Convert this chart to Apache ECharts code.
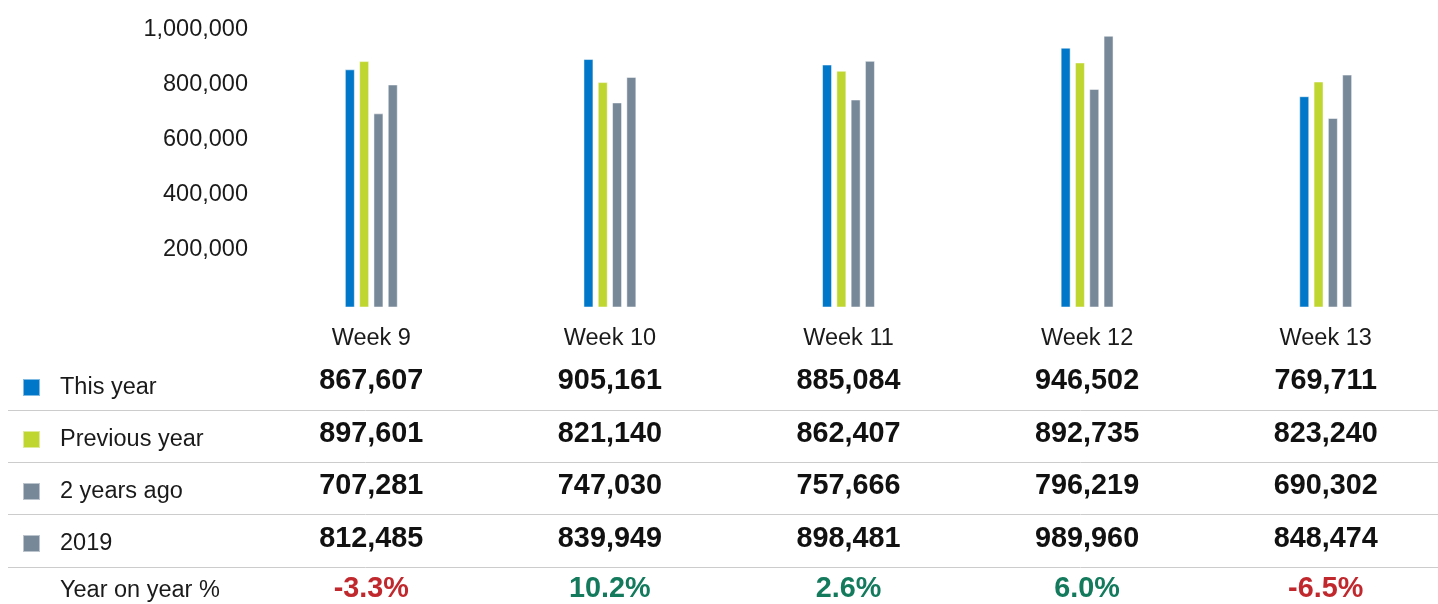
<!DOCTYPE html>
<html>
<head>
<meta charset="utf-8">
<script src="https://cdn.jsdelivr.net/npm/echarts@6/dist/echarts.min.js"></script>
<style>
  html, body { margin: 0; padding: 0; background: #fff; overflow: hidden; }
  #chart { width: 1446px; height: 604px; }
</style>
</head>
<body>
<div id="chart"></div>
<script>
const weeks = ['Week 9', 'Week 10', 'Week 11', 'Week 12', 'Week 13'];
const thisYear = [867607, 905161, 885084, 946502, 769711];
const previousYear = [897601, 821140, 862407, 892735, 823240];
const twoYearsAgo = [707281, 747030, 757666, 796219, 690302];
const year2019 = [812485, 839949, 898481, 989960, 848474];
const yearOnYear = [-3.3, 10.2, 2.6, 6.0, -6.5];

const seriesNames = ['This year', 'Previous year', '2 years ago', '2019'];
const seriesData = [thisYear, previousYear, twoYearsAgo, year2019];
const colors = ['#0077c8', '#bfd630', '#778899', '#778899'];

const font = 'Liberation Sans';
const fmt = v => v.toLocaleString('en-US');

const chart = echarts.init(document.getElementById('chart'));

// one hidden-line x axis per table row, so the row values sit under each week
function rowAxis(data, offset, label) {
  return {
    type: 'category',
    data: data,
    gridIndex: 0,
    position: 'bottom',
    offset: offset,
    axisLine: { show: false },
    axisTick: { show: false },
    splitLine: { show: false },
    axisLabel: Object.assign({
      margin: 0,
      verticalAlign: 'middle',
      fontFamily: font,
      interval: 0
    }, label)
  };
}

const valueLabel = { fontSize: 28.8, fontWeight: 'bold', color: '#111' };

const rowLines = [410.5, 462.5, 514.5, 567.5].map(y => ({
  type: 'line',
  shape: { x1: 8, y1: y, x2: 1438, y2: y },
  style: { stroke: '#cccccc', lineWidth: 1 }
}));

const option = {
  animation: false,
  color: colors,
  grid: { left: 252, right: 1, top: 33, bottom: 295 },
  legend: {
    orient: 'vertical',
    left: 22,
    top: 371,
    padding: 0,
    itemWidth: 17,
    itemHeight: 17,
    itemGap: 19,
    icon: 'rect',
    selectedMode: false,
    data: seriesNames,
    textStyle: {
      fontFamily: font,
      fontSize: 23.5,
      lineHeight: 24,
      color: '#1a1a1a',
      padding: [0, 0, 9, 15]
    }
  },
  xAxis: [
    rowAxis(weeks, 31, { fontSize: 23.5, color: '#1a1a1a' }),
    rowAxis(thisYear.map(fmt), 74, valueLabel),
    rowAxis(previousYear.map(fmt), 127, valueLabel),
    rowAxis(twoYearsAgo.map(fmt), 179, valueLabel),
    rowAxis(year2019.map(fmt), 232, valueLabel),
    rowAxis(yearOnYear.map(v => v.toFixed(1) + '%'), 282, {
      fontSize: 28.8,
      fontWeight: 'bold',
      color: (v, i) => (yearOnYear[i] < 0 ? '#c0282d' : '#137a5c')
    })
  ],
  yAxis: {
    type: 'value',
    min: 0,
    max: 1000000,
    interval: 200000,
    axisLine: { show: false },
    axisTick: { show: false },
    splitLine: { show: false },
    axisLabel: {
      margin: 4,
      fontFamily: font,
      fontSize: 23.5,
      color: '#1a1a1a',
      verticalAlign: 'bottom',
      lineHeight: 7,
      formatter: v => (v === 0 ? '' : fmt(v))
    }
  },
  series: seriesData.map((d, i) => ({
    name: seriesNames[i],
    type: 'bar',
    xAxisIndex: 0,
    data: d,
    barWidth: 10,
    barGap: '43%',
    itemStyle: { borderColor: 'rgba(255,255,255,0.5)', borderWidth: 1 }
  })),
  graphic: rowLines.concat([{
    type: 'text',
    left: 60,
    top: 579,
    style: {
      text: 'Year on year %',
      font: '23.5px ' + font,
      fill: '#1a1a1a'
    }
  }])
};

chart.setOption(option);
</script>
</body>
</html>
